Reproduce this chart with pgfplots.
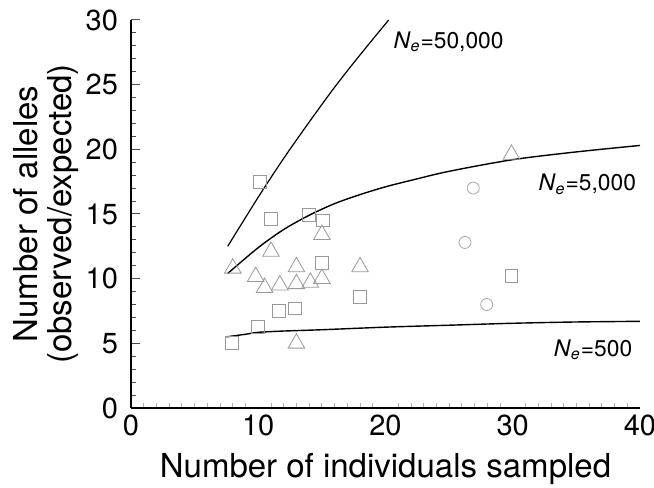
\documentclass[border=0pt]{standalone}
\usepackage{fontspec}
\setmainfont{TeX Gyre Heros}
\usepackage{pgfplots}
\pgfplotsset{compat=1.18}

\begin{document}
\begin{tikzpicture}
\begin{axis}[
    name=ax,
    width=254.5pt, height=194pt,
    scale only axis,
    xmin=0, xmax=40, ymin=0, ymax=30,
    axis x line*=bottom, axis y line*=left,
    axis line style={black, line width=0.6pt},
    xtick={0,10,20,30,40},
    ytick={0,5,...,30},
    minor x tick num=9,
    minor y tick num=4,
    tick align=inside,
    major tick length=4.5pt,
    minor tick length=2.5pt,
    y tick style={black!70, line width=0.5pt},
    major x tick style={draw=none},
    minor x tick style={gray!60, line width=0.4pt},
    tick label style={font=\fontsize{14.5}{16}\selectfont},
    /pgf/number format/assume math mode=true,
    xticklabel style={yshift=0pt},
    yticklabel style={xshift=-3pt},
    xlabel={Number of individuals sampled},
    ylabel={Number of alleles\\(observed/expected)},
    ylabel style={align=center, font=\fontsize{16.5}{17}\selectfont, yshift=-3.5pt},
    xlabel style={font=\fontsize{16.5}{18}\selectfont, yshift=-2pt},
    clip=false,
]
% Ne = 50,000
\addplot[black, line width=0.6pt, smooth] coordinates {
    (7.6,12.5) (10,16.3) (12,19.3) (14,22.1) (16,24.8) (18,27.3) (20.25,30)
};
% Ne = 5,000
\addplot[black, line width=0.7pt, smooth] coordinates {
    (7.6,10.4) (10,12.4) (12,13.8) (14,14.9) (16,15.8) (18,16.5) (20,17.1)
    (22,17.6) (25,18.3) (30,19.2) (35,19.8) (40,20.3)
};
% Ne = 500
\addplot[black, line width=0.7pt, smooth] coordinates {
    (7.5,5.5) (9,5.7) (10,5.85) (12,5.95) (15,6.05) (20,6.25) (25,6.4)
    (30,6.55) (35,6.65) (40,6.7)
};
% squares
\addplot[only marks, mark=square, mark size=3.2pt, draw=gray!80, line width=0.4pt] coordinates {
    (10.1,17.5) (11.0,14.6) (14.0,14.9) (15.1,14.5) (15.0,11.2) (11.6,7.5)
    (12.9,7.7) (10.0,6.3) (7.9,5.05) (18.0,8.6) (29.9,10.2)
};
% triangles
\addplot[only marks, mark=triangle, mark size=4.8pt, draw=gray!80, line width=0.4pt] coordinates {
    (8.0,10.8) (11.0,12.1) (15.0,13.4) (9.8,10.15) (13.0,10.9) (10.5,9.3)
    (11.7,9.5) (13.0,9.6) (14.1,9.7) (15.0,10.0) (13.0,5.0) (18.0,10.9) (29.9,19.6)
};
% circles
\addplot[only marks, mark=o, mark size=3pt, draw=gray!70, line width=0.4pt] coordinates {
    (26.9,17.0) (26.25,12.8) (27.95,8.0)
};
\node[anchor=west, font=\fontsize{11.4}{13}\selectfont, inner sep=0pt] at (axis cs:20.6,28.3) {\textit{N}\textsubscript{\textit{e}}=50,000};
\node[anchor=west, font=\fontsize{11.4}{13}\selectfont, inner sep=0pt] at (axis cs:32.0,17.3) {\textit{N}\textsubscript{\textit{e}}=5,000};
\node[anchor=west, font=\fontsize{11.4}{13}\selectfont, inner sep=0pt] at (axis cs:33.2,4.5) {\textit{N}\textsubscript{\textit{e}}=500};
\end{axis}
% fix the page to the reference margins
\pgfresetboundingbox
\useasboundingbox ([xshift=-65.5pt,yshift=-40pt]ax.south west) rectangle ([xshift=7pt,yshift=10pt]ax.north east);
\end{tikzpicture}
\end{document}
